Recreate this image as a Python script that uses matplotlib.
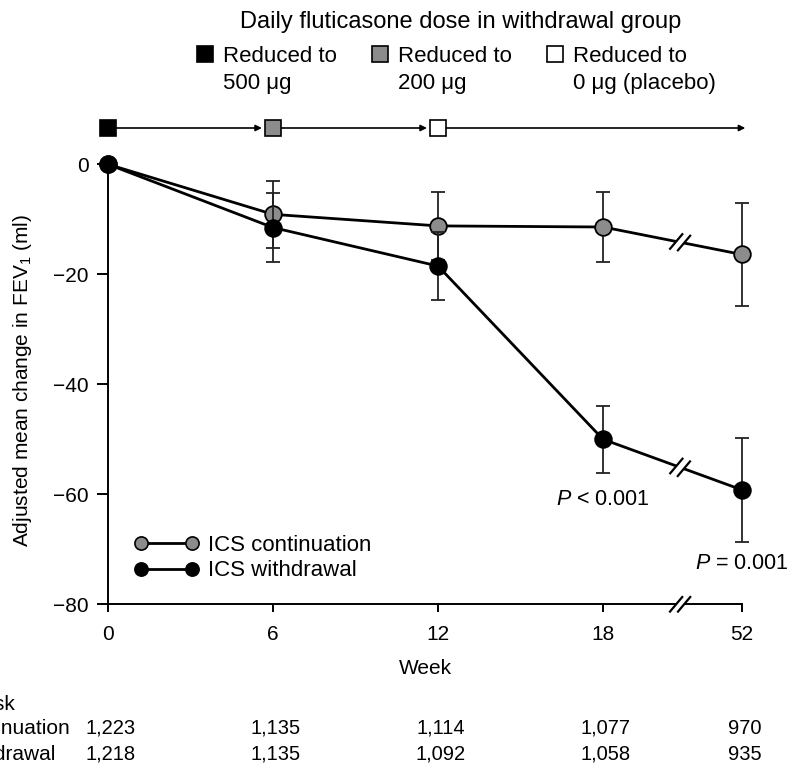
import numpy as np
import matplotlib
matplotlib.use('Agg')
import matplotlib.pyplot as plt
from matplotlib.lines import Line2D
from matplotlib.transforms import blended_transform_factory

plt.rcParams['font.family'] = ['Liberation Sans', 'DejaVu Sans']
plt.rcParams['mathtext.fontset'] = 'custom'
plt.rcParams['mathtext.rm'] = 'Liberation Sans'
plt.rcParams['mathtext.it'] = 'Liberation Sans:italic'

# data
weeks = ['0', '6', '12', '18', '52']
xpos = [0, 1, 2, 3, 3.842]          # axis is broken between 18 and 52
cont_mean = [0, -9.1, -11.2, -11.4, -16.4]
cont_err = [0, 6.1, 6.2, 6.3, 9.3]
wd_mean = [0, -11.5, -18.5, -50.0, -59.2]
wd_err = [0, 6.2, 6.1, 6.1, 9.5]
risk_cont = ['1,223', '1,135', '1,114', '1,077', '970']
risk_wd = ['1,218', '1,135', '1,092', '1,058', '935']
dose_top = ['Reduced to', 'Reduced to', 'Reduced to']
dose_bottom = ['500 μg', '200 μg', '0 μg (placebo)']
dose_colors = ['black', '#8c8c8c', 'white']
break_x = 3.467

FS = 15
W, H = 789, 765
fig = plt.figure(figsize=(W / 100, H / 100), dpi=100)
ax = fig.add_axes([108 / W, (H - 604.3) / H, (742 - 108) / W, 440 / H])
ax.set_xlim(0, xpos[-1])
ax.set_ylim(-80, 0)

for sp in ['top', 'right']:
    ax.spines[sp].set_visible(False)
for sp in ['left', 'bottom']:
    ax.spines[sp].set_linewidth(1.4)
ax.spines['left'].set_bounds(-80, 0)

ax.set_xticks(xpos)
ax.set_xticklabels(weeks)
ax.set_yticks([0, -20, -40, -60, -80])
ax.set_yticklabels(['0', '\u221220', '\u221240', '\u221260', '\u221280'])
ax.tick_params(axis='x', length=6, width=1.4, pad=9, labelsize=FS)
ax.tick_params(axis='y', length=8, width=1.4, pad=6, labelsize=FS)
ax.set_xlabel('Week', fontsize=FS, labelpad=11)
ax.set_ylabel('Adjusted mean change in FEV$_1$ (ml)', fontsize=FS)
ax.yaxis.set_label_coords(-0.117, 0.51)

# series
ax.errorbar(xpos, cont_mean, yerr=cont_err, color='black', lw=2, marker='o',
            ms=12, mfc='#8c8c8c', mec='black', mew=1.3, ecolor='#222222',
            elinewidth=1.3, capsize=4.7, capthick=1.3, clip_on=False, zorder=3)
ax.errorbar(xpos, wd_mean, yerr=wd_err, color='black', lw=2, marker='o',
            ms=12, mfc='black', mec='black', mew=1.3, ecolor='#222222',
            elinewidth=1.3, capsize=4.7, capthick=1.3, clip_on=False, zorder=4)

fig.canvas.draw()


def draw_break(x0, y0, x1, y1, xb, gap=4.0, L=9.5):
    yb = y0 + (y1 - y0) * (xb - x0) / (x1 - x0)
    p = ax.transData.transform((xb, yb))
    a = ax.transData.transform((x0, y0))
    b = ax.transData.transform((x1, y1))
    d = (b - a) / np.hypot(*(b - a))
    s = np.array([np.cos(np.radians(50)), np.sin(np.radians(50))])
    inv = ax.transData.inverted()
    g = inv.transform([p - d * gap, p + d * gap])
    ax.plot(g[:, 0], g[:, 1], color='white', lw=4, clip_on=False, zorder=5,
            solid_capstyle='butt')
    for c in (p - d * gap, p + d * gap):
        seg = inv.transform([c - s * L, c + s * L])
        ax.plot(seg[:, 0], seg[:, 1], color='black', lw=1.6, clip_on=False,
                zorder=6)


draw_break(xpos[3], cont_mean[3], xpos[4], cont_mean[4], break_x)
draw_break(xpos[3], wd_mean[3], xpos[4], wd_mean[4], break_x)
draw_break(0, -80, xpos[-1], -80, break_x)

# p values
ax.text(xpos[3], -61.0, '$P$ < 0.001', ha='center', va='center', fontsize=15.5)
ax.text(xpos[4] + 0.285, -72.6, '$P$ = 0.001', ha='right', va='center', fontsize=15.5)

# legend
handles = [Line2D([], [], color='black', lw=2, marker='o', ms=9.5, mfc='#8c8c8c',
                  mec='black', mew=1.2),
           Line2D([], [], color='black', lw=2, marker='o', ms=9.5, mfc='black',
                  mec='black', mew=1.2)]
fig.legend(handles, ['ICS continuation', 'ICS withdrawal'], loc='upper left',
           bbox_to_anchor=(125 / W, 1 - 526 / H), borderaxespad=0,
           frameon=False, numpoints=2, handlelength=2.9, handletextpad=0.43,
           labelspacing=0.2, fontsize=16)

# dose timeline above the plot
ty = 6.6
ax.annotate('', xy=(xpos[-1] + 0.02, ty), xytext=(xpos[2], ty),
            arrowprops=dict(arrowstyle='-|>', color='black', lw=1.2,
                            mutation_scale=9, shrinkA=0, shrinkB=0),
            annotation_clip=False)
for i in range(2):
    ax.annotate('', xy=(xpos[i + 1], ty), xytext=(xpos[i], ty),
                arrowprops=dict(arrowstyle='-|>', color='black', lw=1.2,
                                mutation_scale=9, shrinkA=0, shrinkB=8),
                annotation_clip=False)
for i, c in enumerate(dose_colors):
    ax.plot(xpos[i], ty, marker='s', ms=11.5, mfc=c, mec='black', mew=1.2,
            clip_on=False, zorder=7)

fig.text(461 / W, 1 - 28 / H, 'Daily fluticasone dose in withdrawal group',
         ha='center', va='baseline', fontsize=17)
sq_x = [205, 380, 555]
for x, t1, t2, c in zip(sq_x, dose_top, dose_bottom, dose_colors):
    fig.lines.append(Line2D([x / W], [1 - 54 / H], marker='s', ms=11.5,
                            mfc=c, mec='black', mew=1.2, ls='none',
                            transform=fig.transFigure))
    fig.text((x + 18) / W, 1 - 62 / H, t1, ha='left', va='baseline', fontsize=16)
    fig.text((x + 18) / W, 1 - 88.5 / H, t2, ha='left', va='baseline', fontsize=16)

# number at risk table (left part is cut off in the original)
tr = blended_transform_factory(ax.transData, fig.transFigure)
fig.text(15 / W, 1 - 704 / H, 'Number at risk', ha='right', va='center', fontsize=FS)
t_cont = fig.text(70 / W, 1 - 728 / H, 'ICS continuation', ha='right',
                  va='center', fontsize=FS)
fig.canvas.draw()
x_left = t_cont.get_window_extent().x0 / W
fig.text(x_left, 1 - 754 / H, 'ICS withdrawal', ha='left', va='center', fontsize=FS)
for x, a, b in zip(xpos, risk_cont, risk_wd):
    ax.text(x + 0.015, 1 - 728 / H, a, transform=tr, ha='center', va='center', fontsize=14.5)
    ax.text(x + 0.015, 1 - 754 / H, b, transform=tr, ha='center', va='center', fontsize=14.5)

fig.savefig('out.png', dpi=100)
